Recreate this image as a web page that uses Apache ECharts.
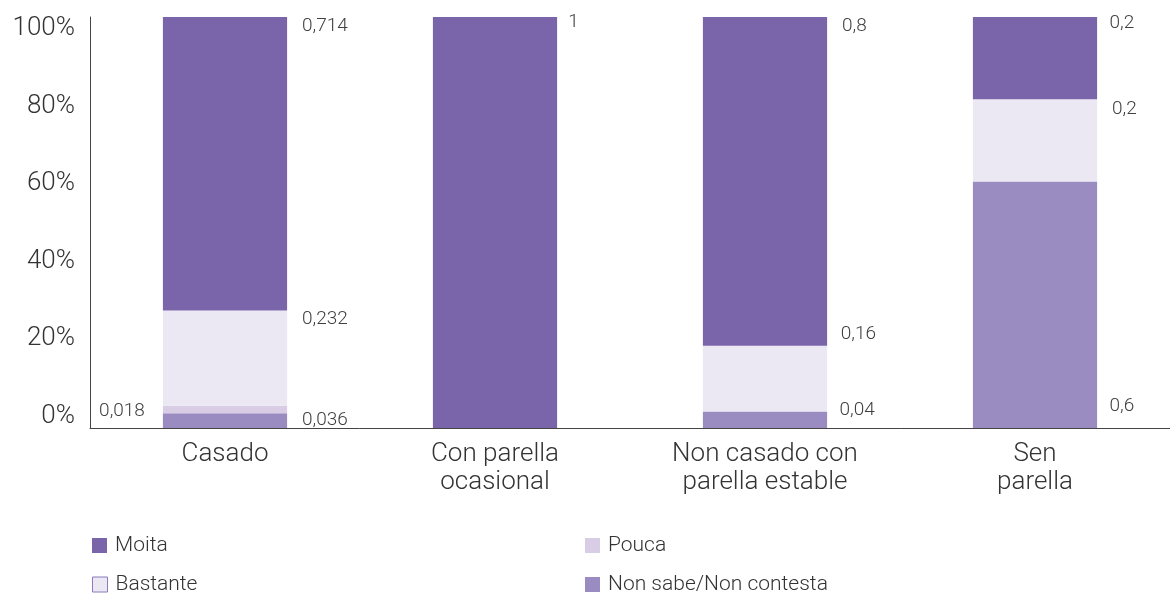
<!DOCTYPE html>
<html>
<head>
<meta charset="utf-8">
<script src="https://cdn.jsdelivr.net/npm/echarts@6/dist/echarts.min.js"></script>
<style>
  html, body { margin: 0; padding: 0; background: #fff; }
  #chart { width: 1170px; height: 594px; }
</style>
</head>
<body>
<div id="chart"></div>
<script>
// categorías e valores (fracción de 1)
const categories = ["Casado", "Con parella\nocasional", "Non casado con\nparella estable", "Sen\nparella"];
const moita = [0.714, 1, 0.8, 0.2];
const bastante = [0.232, null, 0.16, 0.2];
const pouca = [0.018, null, null, null];
const nonSabe = [0.036, null, 0.04, 0.6];
const yTicks = [0, 20, 40, 60, 80, 100];

const FONT = "Roboto";
const colors = {
  moita: "#7a65ab",
  bastante: "#ebe7f3",
  pouca: "#d9cde6",
  nonSabe: "#9a8bc1",
};

// default label: right of the bar, near the top of the segment
const baseLabel = {
  show: true,
  position: ["112%", 9],
  align: "left",
  verticalAlign: "middle",
  fontFamily: FONT,
  fontWeight: 300,
  fontSize: 19,
  color: "#404040",
  formatter: (p) => String(p.value).replace(".", ","),
};

// a few labels sit elsewhere in the original
const labelTweaks = {
  "pouca-0": { position: [-18, 5], align: "right" },
  "nonSabe-0": { position: ["112%", 7] },
  "moita-1": { position: ["109%", 5] },
  "bastante-2": { position: ["111%", -12] },
  "nonSabe-2": { position: ["110%", -1] },
  "bastante-3": { position: ["112%", 10] },
  "moita-3": { position: ["110%", 6] },
  "nonSabe-3": { position: ["110%", 225] },
};

function buildData(key, arr) {
  return arr.map((v, i) => {
    const t = labelTweaks[key + "-" + i];
    return t ? { value: v, label: t } : v;
  });
}

function makeSeries(name, key, arr) {
  return {
    name,
    type: "bar",
    stack: "total",
    barWidth: "46%",
    color: colors[key],
    itemStyle: { color: colors[key] },
    label: baseLabel,
    emphasis: { disabled: true },
    data: buildData(key, arr),
  };
}

function legendAt(left, top, item) {
  return {
    left,
    top,
    padding: 0,
    itemWidth: 15,
    itemHeight: 15,
    icon: "rect",
    textStyle: { fontFamily: FONT, fontWeight: 300, fontSize: 21, color: "#333", padding: [0, 0, 0, 3] },
    data: [item],
  };
}

const chart = echarts.init(document.getElementById("chart"));

const option = {
  animation: false,
  grid: { left: 90, right: -4, top: 17, bottom: 166 },
  xAxis: {
    type: "category",
    data: categories,
    axisTick: { show: false },
    axisLine: { lineStyle: { color: "#444", width: 1 } },
    axisLabel: {
      margin: 12,
      fontFamily: FONT,
      fontWeight: 300,
      fontSize: 26,
      lineHeight: 28,
      color: "#333",
      verticalAlign: "top",
    },
  },
  yAxis: [
    {
      type: "value",
      min: 0,
      max: 1,
      axisLine: { show: true, lineStyle: { color: "#444", width: 1 } },
      axisTick: { show: false },
      axisLabel: { show: false },
      splitLine: { show: false },
    },
    {
      // only carries the tick labels, which sit a bit compressed in the original
      type: "value",
      position: "left",
      min: -3.1,
      max: 103.1,
      axisLine: { show: false },
      axisTick: { show: false },
      splitLine: { show: false },
      axisLabel: {
        customValues: yTicks,
        formatter: "{value}%",
        margin: 15,
        fontFamily: FONT,
        fontWeight: 300,
        fontSize: 26,
        color: "#333",
      },
    },
  ],
  legend: [
    legendAt(92, 535, { name: "Moita" }),
    legendAt(92, 574, { name: "Bastante", itemStyle: { borderColor: "#8d7bb8", borderWidth: 1 } }),
    legendAt(585, 535, { name: "Pouca" }),
    legendAt(585, 574, { name: "Non sabe/Non contesta" }),
  ],
  series: [
    makeSeries("Non sabe/Non contesta", "nonSabe", nonSabe),
    makeSeries("Pouca", "pouca", pouca),
    makeSeries("Bastante", "bastante", bastante),
    makeSeries("Moita", "moita", moita),
  ],
};

chart.setOption(option);
</script>
</body>
</html>
